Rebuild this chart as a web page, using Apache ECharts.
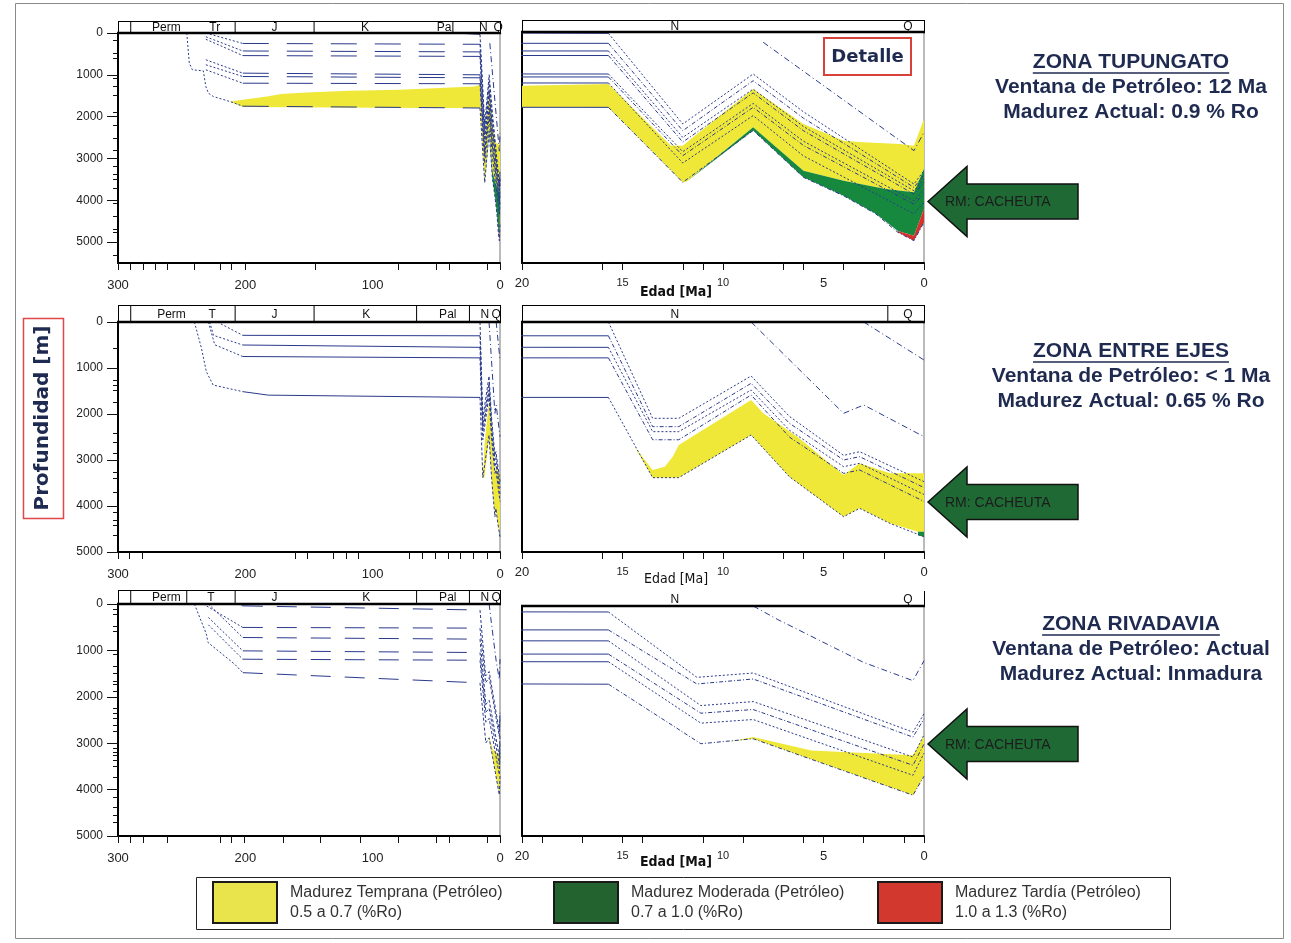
<!DOCTYPE html>
<html>
<head>
<meta charset="UTF-8">
<title>Historia de soterramiento - Cuenca Cuyana</title>
<style type="text/css">
	html, body { margin:0; padding:0; background:#fff; }
	#main { width:1291px; height:943px; }
</style>
</head>
<body>
<div id="main"></div>
<script src="https://cdn.jsdelivr.net/npm/echarts@6/dist/echarts.min.js"></script>
<script type="text/javascript">
// ===== Zona Tupungato: horizontes [edad Ma, profundidad m] =====
var tupH1 = [[36,0],[15.7,32],[12,2190],[8.5,1000],[6,1900],[0.5,3620],[0,3300]];
var tupH2 = [[231,0],[202,250],[15.7,270],[12,2350],[8.5,1160],[6,2050],[0.5,3700],[0,3400]];
var tupH3 = [[231,90],[202,430],[15.7,452],[12,2510],[8.5,1360],[6,2250],[0.5,3780],[0,3500]];
var tupH4 = [[231,150],[202,540],[15.7,560],[12,2620],[8.5,1450],[6,2350],[0.5,3860],[0,3580]];
var tupH5 = [[231,640],[202,960],[15.7,1000],[12,2850],[8.5,1700],[6,2600],[0.5,4020],[0,3750]];
var tupH6 = [[231,760],[202,1040],[15.7,1071],[12,2944],[8.5,1794],[6,2700],[0.5,4100],[0,3850]];
var tupH7 = [[231,880],[202,1200],[15.7,1214],[12,3119],[8.5,1990],[6,2950],[0.5,4330],[0,4050]];
var tupBase = [[246,0],[244,720],[241.6,880],[233,905],[231,1280],[229,1440],[225,1520],[212,1640],[202,1750],[15.7,1794],[12,3579],[8.5,2345],[6,3460],[4,3900],[2.4,4330],[1.3,4770],[0.5,4968],[0,4530]];
var tupY1 = [[8,245],[0.5,2825],[0,2390]];
// ventanas de madurez (poligonos)
var tupYellow = [[212,1640],[202,1595],[183,1516],[172,1460],[152,1421],[118,1381],[79,1357],[20,1280],[15.7,1238],[12.6,2700],[12,2706],[11.6,2550],[8.5,1357],[6,2190],[4,2587],[3,2627],[1.2,2667],[0.5,2706],[0,2071],
                 [0,3262],[0.5,3817],[1.9,3738],[4,3540],[6,3302],[8.5,2270],[11.8,3560],[12,3579],[15.7,1794],[63,1794],[202,1770]];
var tupGreen = [[11.8,3560],[8.5,2270],[6,3302],[4,3540],[1.9,3738],[0.5,3817],[0,3262],
                [0,4215],[0.5,4850],[1.3,4740],[2.4,4330],[4,3900],[6,3460],[8.5,2345]];
var tupRed = [[1.3,4740],[0.5,4850],[0,4215],[0,4530],[0.5,4968],[1.3,4770]];

// ===== Zona Entre Ejes =====
var entH1 = [[15.7,0],[13.5,2094],[12.2,2094],[8.6,1174],[6.7,2050],[4,2900],[3.2,2819],[0,3471]];
var entH2 = [[222,0],[202,290],[15.7,300],[13.5,2275],[12.2,2275],[8.6,1333],[6.7,2200],[4,3000],[3.2,2928],[0,3600]];
var entH3 = [[228,0],[225,290],[202,500],[15.7,551],[13.5,2384],[12.2,2384],[8.6,1478],[6.7,2350],[4,3145],[3.2,3072],[0,3750]];
var entH4 = [[229,0],[224,495],[202,750],[15.7,780],[13.5,2560],[12.2,2560],[8.6,1587],[6.7,2500],[4,3290],[3.2,3217],[0,3900]];
var entBase = [[240,0],[234.5,565],[230.6,1080],[225.3,1370],[202,1514],[182,1590],[15.7,1640],[13.5,3384],[12.2,3384],[8.6,2456],[6.7,3362],[4,4232],[3.2,4051],[1.7,4377],[0,4667]];
var entY1 = [[8.6,0],[4,1986],[3,1804],[0,2493]];
var entY2 = [[3,0],[0,826]];
var entYellow = [[14.4,2710],[13.5,3217],[12.9,3145],[12.5,2928],[12.2,2674],[8.6,1696],[8,1986],[6.3,2493],[4,3326],[3.2,3072],[1.7,3290],[0,3290],
                 [0,4558],[0.3,4560],[1.7,4377],[3.2,4051],[4,4232],[6.7,3362],[8.6,2456],[12.2,3384],[13.5,3384]];
var entGreen = [[0.3,4560],[0,4558],[0,4667],[0.3,4640]];

// ===== Zona Rivadavia =====
var rivH1 = [[206,0],[202,40],[15.7,130],[11.3,1551],[8.5,1457],[0.55,2742],[0,2345]];
var rivH2 = [[233,0],[202,505],[15.7,520],[11.3,1695],[8.5,1587],[0.55,2850],[0,2453]];
var rivH3 = [[229,0],[202,722],[15.7,758],[11.1,2165],[8.5,2078],[0.55,3283],[0,2800]];
var rivH4 = [[229,290],[202,1010],[15.7,1046],[11.1,2330],[8.5,2251],[0.55,3463],[0,3000]];
var rivH5 = [[229,450],[202,1190],[15.7,1212],[11.1,2547],[8.5,2468],[0.55,3680],[0,3200]];
var rivBase = [[240,0],[230.6,649],[229.3,830],[208.3,1299],[202,1480],[15.7,1700],[11.1,2994],[8.5,2886],[0.55,4113],[0,3700]];
var rivY1 = [[8.5,0],[7.3,289],[3,1227],[0.55,1623],[0,1190]];
var rivYellow = [[9.8,2958],[8.5,2850],[5.6,3139],[4,3175],[0.55,3247],[0,2814],[0,3700],[0.55,4113],[8.5,2886]];

// ===== ejes: marcas y etiquetas =====
var ageLabels = [300, 200, 100, 0];
var detLabels = [20, 15, 10, 5, 0];
var depthLabels = [0, 1000, 2000, 3000, 4000, 5000];
var tupAgeTicks = [300,290,280,271,261,240,220,211,200,145,80,50,40,10,0];
var entAgeTicks = [300,291,281,161,151,131,121,111,71,61,51,41,31,21,10,0];
var rivAgeTicks = [300,290,280,261,220,211,201,170,141,110,80,50,40,10,0];
var detTicksA = [20,16,15,12,11,10,7,6,4,2,0];
var detTicksB = [20,19,17,15,14,11,9,6,5,3,1,0];
var tupDepthMinor = [170,480,600,1080,1260,1480,1900,2190,2510,2790,3180,3380,3500,3700,4060,4370,4690,4770,5320];
var entDepthMinor = [570,1260,1370,1480,1730,2420,2600,2850,3250,3400,3690,4120,4300,4410,4630];
var rivDepthMinor = [110,220,470,580,1080,1340,1480,1660,1730,1880,2240,2350,2450,2600,2740,3100,3180,3250,3360,3500,3720,4150,4370,4550,4690];

// escala cronoestratigrafica
var tupHdrDiv = [290,208,146,37];
var tupHdrLab = [[262,'Perm'],[224,'Tr'],[177,'J'],[106,'K'],[44,'Pa'],[13,'N'],[1.5,'Q']];
var entHdrDiv = [290,208,146,65.5,24];
var entHdrLab = [[258,'Perm'],[226,'T'],[177,'J'],[105,'K'],[41,'Pal'],[12,'N'],[3,'Q']];
var rivHdrDiv = [290,246,208,65.5,24];
var rivHdrLab = [[262,'Perm'],[227,'T'],[177,'J'],[105,'K'],[41,'Pal'],[12,'N'],[3,'Q']];
var detHdrLab = [[12.4,'N'],[0.8,'Q']];
var entDetDiv = [1.8];

// textos
var zoneTitles = ['ZONA TUPUNGATO', 'ZONA ENTRE EJES', 'ZONA RIVADAVIA'];
var zoneVentana = ['Ventana de Petróleo: 12 Ma', 'Ventana de Petróleo: < 1 Ma', 'Ventana de Petróleo: Actual'];
var zoneMadurez = ['Madurez Actual: 0.9 % Ro', 'Madurez Actual: 0.65 % Ro', 'Madurez Actual: Inmadura'];
var legendNames = ['Madurez Temprana (Petróleo)', 'Madurez Moderada (Petróleo)', 'Madurez Tardía (Petróleo)'];
var legendRanges = ['0.5 a 0.7 (%Ro)', '0.7 a 1.0 (%Ro)', '1.0 a 1.3 (%Ro)'];

var LINE = '#2a3a8c';
var YEL = '#efe838', GRN = '#17893f', RED = '#d6322c';
var NAVY = '#1f2a50';

var zonas = [
	{L:{hTop:21,hH:12,top:33,h:230}, R:{hTop:20,hH:12,top:32,h:231}, ymax:5500,
	 horizons:[tupH1,tupH2,tupH3,tupH4,tupH5,tupH6,tupH7,tupBase], young:[tupY1],
	 polys:[[tupYellow,YEL],[tupGreen,GRN],[tupRed,RED]],
	 ageTicks:tupAgeTicks, minor:tupDepthMinor, detTicks:detTicksA,
	 hdrDiv:tupHdrDiv, hdrLab:tupHdrLab, detDiv:[], boxTopR:true, midDash:[26,18], ly:[62,87,112], ay:201.5, edadY:292, edadBold:true},
	{L:{hTop:305,hH:17,top:322,h:230}, R:{hTop:305,hH:17,top:322,h:230}, ymax:5000,
	 horizons:[entH1,entH2,entH3,entH4,entBase], young:[entY1,entY2],
	 polys:[[entYellow,YEL],[entGreen,GRN]],
	 ageTicks:entAgeTicks, minor:entDepthMinor, detTicks:detTicksA,
	 hdrDiv:entHdrDiv, hdrLab:entHdrLab, detDiv:entDetDiv, boxTopR:true, midDash:'solid', ly:[351,376,401], ay:502, edadY:579, edadBold:false},
	{L:{hTop:590,hH:14,top:604,h:232}, R:{hTop:591,hH:15,top:606,h:230}, ymax:5000,
	 horizons:[rivH1,rivH2,rivH3,rivH4,rivH5,rivBase], young:[rivY1],
	 polys:[[rivYellow,YEL]],
	 ageTicks:rivAgeTicks, minor:rivDepthMinor, detTicks:detTicksB,
	 hdrDiv:rivHdrDiv, hdrLab:rivHdrLab, detDiv:[], boxTopR:false, midDash:[20,14], ly:[624,649,674], ay:744, edadY:862, edadBold:true}
];

var LX = 118, LW = 382, RX = 522, RW = 402;
var grids = [], xAxes = [], yAxes = [], series = [];

function part(pts, hi, lo) {
	return pts.filter(function (p) { return p[0] <= hi && p[0] >= lo; });
}
function addLine(xi, yi, pts, dash) {
	if (!pts || pts.length < 2) return;
	series.push({type:'line', xAxisIndex:xi, yAxisIndex:yi, data:pts, symbol:'none', showSymbol:false,
		silent:true, clip:true, z:4, animation:false,
		lineStyle:{color:LINE, width:1, type:dash}});
}
function addPoly(xi, yi, pts, color) {
	series.push({type:'custom', xAxisIndex:xi, yAxisIndex:yi, data:[[0,0]], silent:true, z:2, animation:false,
		renderItem:function (params, api) {
			var cs = params.coordSys;
			return {type:'polygon', shape:{points:pts.map(function (p) { return api.coord(p); })},
				style:{fill:color},
				clipPath:{type:'rect', shape:{x:cs.x, y:cs.y, width:cs.width, height:cs.height}}};
		}});
}
// marcas menores de profundidad (capas), dibujadas con la escala del eje
function addMinorTicks(xi, yi, depths, ageAtAxis) {
	series.push({type:'custom', xAxisIndex:xi, yAxisIndex:yi, data:[[0,0]], silent:true, z:6, animation:false,
		renderItem:function (params, api) {
			var cs = params.coordSys;
			return {type:'group', children:depths.map(function (d) {
				var p = api.coord([ageAtAxis, d]);
				return {type:'line', shape:{x1:cs.x - 5, y1:Math.round(p[1]) + 0.5, x2:cs.x, y2:Math.round(p[1]) + 0.5}, style:{stroke:'#111', lineWidth:1}};
			})};
		}});
}
function addHeader(xi, yi, divs, labs, topLine) {
	series.push({type:'custom', xAxisIndex:xi, yAxisIndex:yi, data:[[0,0.5]], silent:true, z:6, animation:false,
		renderItem:function (params, api) {
			var cs = params.coordSys, kids = [];
			var x0 = cs.x, x1 = cs.x + cs.width, y0 = cs.y, y1 = cs.y + cs.height;
			var st = {stroke:'#000', lineWidth:1};
			if (topLine) kids.push({type:'line', shape:{x1:x0, y1:y0 + 0.5, x2:x1, y2:y0 + 0.5}, style:st});
			if (topLine) kids.push({type:'line', shape:{x1:x0 + 0.5, y1:y0, x2:x0 + 0.5, y2:y1}, style:st});
			kids.push({type:'line', shape:{x1:x1 + 0.5, y1:y0, x2:x1 + 0.5, y2:y1}, style:st});
			kids.push({type:'line', shape:{x1:x0 - 1, y1:y1, x2:x1 + 1, y2:y1}, style:{stroke:'#000', lineWidth:2.5}});
			divs.forEach(function (a) {
				var p = api.coord([a, 0.5]);
				kids.push({type:'line', shape:{x1:p[0], y1:y0, x2:p[0], y2:y1}, style:st});
			});
			labs.forEach(function (l) {
				var p = api.coord([l[0], 0.5]);
				kids.push({type:'text', x:p[0], y:p[1] + 1,
					style:{text:l[1], fill:'#111', font:'12px "Liberation Sans", Arial', textAlign:'center', textVerticalAlign:'middle'}});
			});
			return {type:'group', children:kids};
		}});
}
function plain(v) { return String(v); }

zonas.forEach(function (z, zi) {
	// --- panel completo (300-0 Ma) ---
	var gL = grids.length;
	grids.push({left:LX, top:z.L.top, width:LW, height:z.L.h, show:true, borderColor:'#777', borderWidth:1});
	var xL = xAxes.length;
	xAxes.push({gridIndex:gL, type:'value', position:'bottom', min:0, max:300, inverse:true,
		axisLine:{onZero:false, lineStyle:{color:'#000', width:2}},
		axisTick:{length:7, customValues:z.ageTicks, lineStyle:{color:'#111'}},
		axisLabel:{customValues:ageLabels, margin:16, fontSize:13, color:'#222', fontFamily:'Liberation Sans', formatter:plain},
		splitLine:{show:false}});
	var yL = yAxes.length;
	yAxes.push({gridIndex:gL, type:'value', position:'left', min:0, max:z.ymax, inverse:true,
		axisLine:{show:true, onZero:false, lineStyle:{color:'#000', width:2}},
		axisTick:{show:true, length:11, customValues:depthLabels, lineStyle:{color:'#111'}},
		axisLabel:{customValues:depthLabels, margin:15, fontSize:12, color:'#222', fontFamily:'Liberation Sans', formatter:plain},
		splitLine:{show:false}});
	// cabecera
	var gLH = grids.length;
	grids.push({left:LX, top:z.L.hTop, width:LW, height:z.L.hH});
	var xLH = xAxes.length;
	xAxes.push({gridIndex:gLH, type:'value', min:0, max:300, inverse:true, show:false});
	var yLH = yAxes.length;
	yAxes.push({gridIndex:gLH, type:'value', min:0, max:1, show:false});

	// --- detalle (20-0 Ma) ---
	var gR = grids.length;
	grids.push({left:RX, top:z.R.top, width:RW, height:z.R.h, show:true, borderColor:'#777', borderWidth:1});
	var xR = xAxes.length;
	xAxes.push({gridIndex:gR, type:'value', position:'bottom', min:0, max:20, inverse:true,
		axisLine:{onZero:false, lineStyle:{color:'#000', width:2}},
		axisTick:{length:7, customValues:z.detTicks, lineStyle:{color:'#111'}},
		axisLabel:{customValues:detLabels, margin:14, color:'#222', fontFamily:'Liberation Sans',
			formatter:function (v) { return (v === 15 || v === 10) ? '{s|' + v + '}' : '{b|' + v + '}'; },
			rich:{s:{fontSize:11, color:'#222'}, b:{fontSize:13, color:'#222'}}},
		splitLine:{show:false}});
	var yR = yAxes.length;
	yAxes.push({gridIndex:gR, type:'value', position:'left', min:0, max:z.ymax, inverse:true,
		axisLine:{show:true, onZero:false, lineStyle:{color:'#000', width:2}},
		axisTick:{show:false}, axisLabel:{show:false}, splitLine:{show:false}});
	var gRH = grids.length;
	grids.push({left:RX, top:z.R.hTop, width:RW, height:z.R.hH});
	var xRH = xAxes.length;
	xAxes.push({gridIndex:gRH, type:'value', min:0, max:20, inverse:true, show:false});
	var yRH = yAxes.length;
	yAxes.push({gridIndex:gRH, type:'value', min:0, max:1, show:false});

	// ventanas de madurez
	z.polys.forEach(function (pc) {
		addPoly(xL, yL, pc[0], pc[1]);
		addPoly(xR, yR, pc[0], pc[1]);
	});
	// horizontes
	z.horizons.forEach(function (h, hi) {
		addLine(xL, yL, part(h, 400, 202), [2, 2]);
		addLine(xL, yL, part(h, 202, 15.7), z.midDash);
		addLine(xL, yL, part(h, 15.7, -1), [3, 2]);
		addLine(xR, yR, part(h, 400, 15.7), 'solid');
		addLine(xR, yR, part(h, 15.7, -1), hi % 2 ? [4, 2, 1, 2] : [2, 2]);
	});
	z.young.forEach(function (h) {
		addLine(xL, yL, h, [6, 3, 1, 3]);
		addLine(xR, yR, h, [6, 3, 1, 3]);
	});
	addMinorTicks(xL, yL, z.minor, 300);
	addHeader(xLH, yLH, z.hdrDiv, z.hdrLab, true);
	addHeader(xRH, yRH, z.detDiv, detHdrLab, z.boxTopR);
});

// ---- anotaciones ----
var mctx = document.createElement('canvas').getContext('2d');
function textW(font, t) { mctx.font = font; return mctx.measureText(t).width; }
var graphics = [];
graphics.push({type:'rect', shape:{x:15.5, y:3.5, width:1268, height:935}, style:{fill:null, stroke:'#8a8a8a', lineWidth:1}, z:0});
var TF = 'bold 21px "Liberation Sans", Arial';
zonas.forEach(function (z, zi) {
	var cx = 1131;
	graphics.push({type:'text', x:cx, y:z.ly[0], style:{text:zoneTitles[zi], font:TF, fill:NAVY, textAlign:'center', textVerticalAlign:'middle'}});
	var w = textW(TF, zoneTitles[zi]);
	graphics.push({type:'line', shape:{x1:cx - w / 2, y1:z.ly[0] + 11, x2:cx + w / 2, y2:z.ly[0] + 11}, style:{stroke:NAVY, lineWidth:1.5}});
	graphics.push({type:'text', x:cx, y:z.ly[1], style:{text:zoneVentana[zi], font:TF, fill:NAVY, textAlign:'center', textVerticalAlign:'middle'}});
	graphics.push({type:'text', x:cx, y:z.ly[2], style:{text:zoneMadurez[zi], font:TF, fill:NAVY, textAlign:'center', textVerticalAlign:'middle'}});
	// flecha roca madre
	var y = z.ay;
	graphics.push({type:'polygon', shape:{points:[[928,y],[967,y - 35],[967,y - 17.5],[1078,y - 17.5],[1078,y + 17.5],[967,y + 17.5],[967,y + 35]]},
		style:{fill:'#1f6a34', stroke:'#111', lineWidth:1.5}});
	graphics.push({type:'text', x:945, y:y + 1, style:{text:'RM: CACHEUTA', font:'14px "Liberation Sans", Arial', fill:'#1c1c1c', textAlign:'left', textVerticalAlign:'middle'}});
	// titulo eje x del detalle
	graphics.push({type:'text', x:676, y:z.edadY, style:{text:'Edad [Ma]', font:(z.edadBold ? 'bold ' : '') + '14px "DejaVu Sans Condensed", "DejaVu Sans"', fill:'#111', textAlign:'center', textVerticalAlign:'middle'}});
});
// Detalle
graphics.push({type:'rect', shape:{x:824, y:38, width:87, height:37}, style:{fill:'#fff', stroke:'#d8403a', lineWidth:2}, z:100});
graphics.push({type:'text', x:867.5, y:57, z:101, style:{text:'Detalle', font:'bold 18px "DejaVu Sans"', fill:NAVY, textAlign:'center', textVerticalAlign:'middle'}});
// eje de profundidad
graphics.push({type:'rect', shape:{x:23.5, y:318.5, width:40, height:200}, style:{fill:null, stroke:'#e04848', lineWidth:1.5}});
graphics.push({type:'text', x:43, y:418, rotation:Math.PI / 2, style:{text:'Profundidad [m]', font:'bold 20px "DejaVu Sans"', fill:NAVY, textAlign:'center', textVerticalAlign:'middle'}});
// leyenda
graphics.push({type:'rect', shape:{x:196.5, y:877.5, width:974, height:52}, style:{fill:'#fff', stroke:'#222', lineWidth:1}});
var legColors = ['#e9e44c', '#22632f', '#d3382f'];
var legX = [213, 554, 878];
legendNames.forEach(function (n, i) {
	graphics.push({type:'rect', shape:{x:legX[i], y:882, width:64, height:41}, style:{fill:legColors[i], stroke:'#1a1a1a', lineWidth:2}});
	graphics.push({type:'text', x:legX[i] + 77, y:892.5, style:{text:n, font:'16px "Liberation Sans", Arial', fill:'#333', textAlign:'left', textVerticalAlign:'middle'}});
	graphics.push({type:'text', x:legX[i] + 77, y:913, style:{text:legendRanges[i], font:'16px "Liberation Sans", Arial', fill:'#333', textAlign:'left', textVerticalAlign:'middle'}});
});

var myChart = echarts.init(document.getElementById('main'), null, {renderer:'canvas'});
myChart.setOption({
	animation:false,
	backgroundColor:'#fff',
	grid:grids,
	xAxis:xAxes,
	yAxis:yAxes,
	series:series,
	graphic:{elements:graphics}
});
</script>
</body>
</html>
